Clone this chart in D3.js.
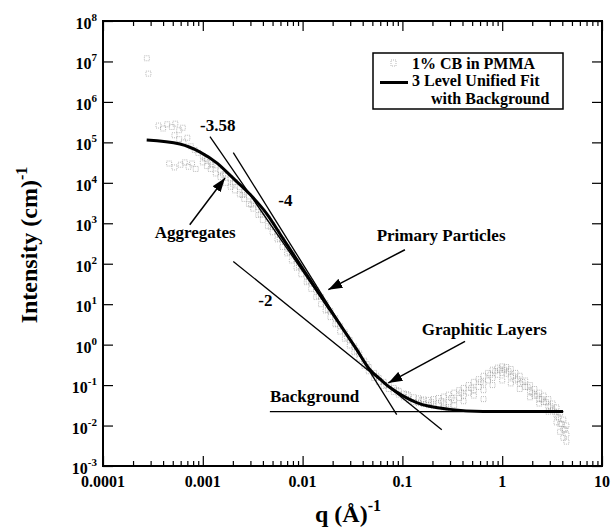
<!DOCTYPE html>
<html>
<head>
<meta charset="utf-8">
<script src="https://cdn.jsdelivr.net/npm/d3@7"></script>
<style>
  body { margin: 0; background: #fff; }
  text { font-family: "Liberation Serif", "Times New Roman", serif; font-weight: bold; fill: #000; }
</style>
</head>
<body>
<svg id="paper" width="613" height="529"></svg>
<script>
// measured scattering data, 1% CB in PMMA: [q (1/A), I (1/cm)]
const cbData = [
  [2.75e-4, 1.2e7], [2.85e-4, 5.0e6],
  [3.6e-4, 2.6e5], [4.0e-4, 2.2e5], [4.4e-4, 2.8e5], [4.9e-4, 2.4e5], [5.3e-4, 2.9e5], [5.8e-4, 2.0e5], [6.3e-4, 2.3e5],
  [5.2e-4, 1.5e5], [5.8e-4, 1.2e5], [6.4e-4, 1.0e5], [7.0e-4, 1.3e5], [7.6e-4, 8.0e4], [8.3e-4, 6.5e4], [9.0e-4, 5.5e4],
  [4.6e-4, 3.0e4], [5.2e-4, 2.4e4], [6.0e-4, 2.8e4], [6.6e-4, 3.2e4], [7.2e-4, 2.5e4], [7.8e-4, 3.0e4], [8.5e-4, 2.2e4],
  [1.0e-3, 4.6e4], [1.0e-3, 3.2e4], [1.1e-3, 3.8e4], [1.1e-3, 2.6e4], [1.2e-3, 3.3e4], [1.2e-3, 2.2e4],
  [1.35e-3, 2.7e4], [1.35e-3, 1.7e4], [1.5e-3, 2.0e4], [1.5e-3, 1.4e4], [1.7e-3, 1.6e4], [1.7e-3, 1.0e4],
  [1.9e-3, 1.3e4], [1.9e-3, 8.0e3], [2.1e-3, 1.05e4], [2.1e-3, 6.5e3], [2.35e-3, 7.8e3], [2.35e-3, 5.2e3],
  [2.6e-3, 6.0e3], [2.6e-3, 4.0e3], [2.9e-3, 4.6e3], [2.9e-3, 3.0e3], [3.2e-3, 3.5e3], [3.2e-3, 2.3e3],
  [3.6e-3, 2.5e3], [3.6e-3, 1.6e3], [4.0e-3, 1.9e3], [4.0e-3, 1.2e3], [4.5e-3, 1.3e3], [4.5e-3, 850],
  [5.0e-3, 900], [5.0e-3, 600], [5.6e-3, 600], [5.6e-3, 400], [6.3e-3, 380], [6.3e-3, 260],
  [7.0e-3, 260], [7.0e-3, 180], [7.8e-3, 180], [7.8e-3, 120], [8.7e-3, 120], [8.7e-3, 80],
  [9.7e-3, 80], [9.7e-3, 55], [0.011, 50], [0.011, 35], [0.0122, 34], [0.0122, 24],
  [0.0137, 22], [0.0137, 15], [0.0153, 15], [0.0153, 10], [0.017, 10.5], [0.017, 7.0],
  [0.019, 6.8], [0.019, 4.8], [0.0213, 4.5], [0.0213, 3.2], [0.0238, 2.9], [0.0238, 2.1],
  [0.0265, 2.0], [0.0265, 1.4], [0.0297, 1.3], [0.0297, 0.95], [0.033, 0.9], [0.033, 0.65],
  [0.037, 0.6], [0.037, 0.45], [0.0415, 0.4], [0.0415, 0.3], [0.046, 0.28], [0.046, 0.22],
  [0.052, 0.2], [0.052, 0.15], [0.058, 0.15], [0.058, 0.12], [0.065, 0.12], [0.065, 0.095],
  [0.073, 0.1], [0.073, 0.08], [0.082, 0.085], [0.082, 0.068], [0.092, 0.072], [0.092, 0.058],
  [0.103, 0.062], [0.103, 0.05], [0.115, 0.056], [0.115, 0.044], [0.13, 0.05], [0.13, 0.038],
  [0.145, 0.047], [0.145, 0.036], [0.163, 0.044], [0.163, 0.034], [0.183, 0.043], [0.183, 0.032],
  [0.205, 0.045], [0.205, 0.031], [0.23, 0.048], [0.23, 0.033], [0.26, 0.052], [0.26, 0.035], [0.26, 0.028],
  [0.29, 0.058], [0.29, 0.038], [0.29, 0.026], [0.33, 0.065], [0.33, 0.042], [0.33, 0.032],
  [0.37, 0.075], [0.37, 0.048], [0.41, 0.085], [0.41, 0.055], [0.41, 0.04], [0.46, 0.1], [0.46, 0.065],
  [0.52, 0.12], [0.52, 0.075], [0.52, 0.055], [0.58, 0.14], [0.58, 0.09], [0.65, 0.17], [0.65, 0.11], [0.65, 0.075], [0.65, 0.045],
  [0.72, 0.2], [0.72, 0.13], [0.8, 0.24], [0.8, 0.15], [0.8, 0.1], [0.9, 0.27], [0.9, 0.18],
  [1.0, 0.29], [1.0, 0.2], [1.0, 0.13], [1.1, 0.28], [1.1, 0.19], [1.22, 0.25], [1.22, 0.16], [1.22, 0.11],
  [1.36, 0.2], [1.36, 0.13], [1.5, 0.17], [1.5, 0.11], [1.5, 0.08], [1.7, 0.13], [1.7, 0.09],
  [1.9, 0.1], [1.9, 0.07], [1.9, 0.05], [2.1, 0.08], [2.1, 0.055], [2.35, 0.065], [2.35, 0.045], [2.35, 0.035],
  [2.6, 0.055], [2.6, 0.038], [2.9, 0.045], [2.9, 0.03], [2.9, 0.022], [3.2, 0.035], [3.2, 0.024],
  [3.5, 0.028], [3.5, 0.018], [3.5, 0.012], [3.8, 0.02], [3.8, 0.011], [3.8, 0.007],
  [4.1, 0.014], [4.1, 0.008], [4.1, 0.005], [4.4, 0.01], [4.4, 0.006], [4.4, 0.004],
  // extra points filling the band
  [1.05e-3, 4.0e4], [1.25e-3, 2.8e4], [1.6e-3, 1.6e4], [2.0e-3, 9.5e3], [2.5e-3, 5.0e3], [3.05e-3, 2.9e3],
  [3.8e-3, 1.7e3], [4.8e-3, 820], [5.9e-3, 420], [7.4e-3, 190], [9.2e-3, 85], [0.0115, 38], [0.0145, 16],
  [0.018, 7.2], [0.0225, 3.2], [0.028, 1.5], [0.035, 0.7], [0.044, 0.33], [0.055, 0.17], [0.069, 0.1],
  [0.087, 0.075], [0.11, 0.06], [0.155, 0.042], [0.195, 0.038], [0.245, 0.04], [0.31, 0.048], [0.39, 0.065],
  [0.49, 0.085], [0.61, 0.12], [0.76, 0.18], [0.85, 0.22], [0.95, 0.24], [1.05, 0.24], [1.16, 0.22],
  [1.29, 0.17], [1.43, 0.14], [1.6, 0.12], [1.8, 0.09], [2.0, 0.065], [2.25, 0.055], [2.5, 0.045],
  [2.75, 0.038], [3.05, 0.03], [3.35, 0.022], [3.65, 0.016], [3.95, 0.011], [4.25, 0.008]
];

// 3 level unified fit with background
const fitQ = [2.74e-4, 5.9e-4, 9.4e-4, 1.38e-3, 2.0e-3, 2.97e-3, 4.36e-3, 6.37e-3, 0.0138, 0.0175, 0.0348, 0.0473, 0.06, 0.0752, 0.1, 0.139, 0.3, 0.643, 4.07];
const fitI = [1.15e5, 9.1e4, 5.75e4, 3.1e4, 1.32e4, 5.2e3, 1.74e3, 417, 22.9, 9.6, 0.76, 0.24, 0.14, 0.087, 0.055, 0.037, 0.0251, 0.0224, 0.0221];

// power law guide lines: [q start, I start, q end, I end]
const slopeLines = [
  {label: "-3.58", seg: [1.18e-3, 1.39e5, 0.0188, 6.86], at: [9.4e-4, 1.9e5]},
  {label: "-4", seg: [2.02e-3, 5.6e4, 0.0877, 0.0187], at: [5.7e-3, 2.7e3]},
  {label: "-2", seg: [2.02e-3, 114, 0.248, 0.0079], at: [3.6e-3, 9.2]}
];
const background = {q0: 0.0047, q1: 4.1, I: 0.022};

// annotations: text anchor point and arrow (from -> tip)
const notes = [
  {text: "Aggregates", at: [8.4e-4, 440], anchor: "middle", from: [7.4e-4, 920], tip: [1.67e-3, 1.31e4]},
  {text: "Primary Particles", at: [0.0552, 356], anchor: "start", from: [0.106, 222], tip: [0.0181, 22.8]},
  {text: "Graphitic Layers", at: [0.156, 1.77], anchor: "start", from: [0.424, 1.2], tip: [0.0723, 0.113]},
  {text: "Background", at: [0.0047, 0.039], anchor: "start"}
];

const xDecades = [1e-4, 1e-3, 1e-2, 1e-1, 1, 10];
const xTickLabels = ["0.0001", "0.001", "0.01", "0.1", "1", "10"];
const yExponents = [-3, -2, -1, 0, 1, 2, 3, 4, 5, 6, 7, 8];
const legendLabels = ["1% CB in PMMA", "3 Level Unified Fit", "with Background"];

const plotLeft = 103, plotRight = 602, plotTop = 21, plotBottom = 466;

const x = d3.scaleLog().domain([1e-4, 10]).range([plotLeft, plotRight]);
const y = d3.scaleLog().domain([1e-3, 1e8]).range([plotBottom, plotTop]);

const svg = d3.select("#paper");

const defs = svg.append("defs");
defs.append("marker")
    .attr("id", "head")
    .attr("viewBox", "0 0 14 10")
    .attr("refX", 14).attr("refY", 5)
    .attr("markerWidth", 14).attr("markerHeight", 10)
    .attr("markerUnits", "userSpaceOnUse")
    .attr("orient", "auto")
  .append("path")
    .attr("d", "M0,0 L14,5 L0,10 z")
    .attr("fill", "#000");

// minor ticks on x
const xMinor = [];
xDecades.slice(0, -1).forEach(d => {
    for (let k = 2; k < 10; k++) xMinor.push(d * k);
});

function styleAxis(g) {
    g.select(".domain").remove();
    g.selectAll(".tick line").attr("stroke", "#000").attr("stroke-width", 1.2);
}

svg.append("g").attr("transform", "translate(0," + plotBottom + ")")
    .call(d3.axisBottom(x).tickValues(xDecades).tickSize(-10).tickFormat(""))
    .call(styleAxis);
svg.append("g").attr("transform", "translate(0," + plotBottom + ")")
    .call(d3.axisBottom(x).tickValues(xMinor).tickSize(-5).tickFormat(""))
    .call(styleAxis);
svg.append("g").attr("transform", "translate(0," + plotTop + ")")
    .call(d3.axisTop(x).tickValues(xDecades).tickSize(-10).tickFormat(""))
    .call(styleAxis);
svg.append("g").attr("transform", "translate(0," + plotTop + ")")
    .call(d3.axisTop(x).tickValues(xMinor).tickSize(-5).tickFormat(""))
    .call(styleAxis);

const yTicks = yExponents.map(e => Math.pow(10, e));
svg.append("g").attr("transform", "translate(" + plotLeft + ",0)")
    .call(d3.axisLeft(y).tickValues(yTicks).tickSize(-10).tickFormat(""))
    .call(styleAxis);
svg.append("g").attr("transform", "translate(" + plotRight + ",0)")
    .call(d3.axisRight(y).tickValues(yTicks).tickSize(-10).tickFormat(""))
    .call(styleAxis);

// frame
svg.append("rect")
    .attr("x", plotLeft).attr("y", plotTop)
    .attr("width", plotRight - plotLeft).attr("height", plotBottom - plotTop)
    .attr("fill", "none").attr("stroke", "#000").attr("stroke-width", 2);

// tick labels
svg.selectAll(".xlab").data(xDecades).enter().append("text")
    .attr("x", d => x(d)).attr("y", plotBottom + 21)
    .attr("text-anchor", "middle")
    .style("font-size", "16px")
    .text((d, i) => xTickLabels[i]);

const ylab = svg.selectAll(".ylab").data(yExponents).enter().append("text")
    .attr("x", plotLeft - 6).attr("y", d => y(Math.pow(10, d)) + 8)
    .attr("text-anchor", "end")
    .style("font-size", "16px");
ylab.append("tspan").text("10");
ylab.append("tspan").attr("dy", -8).style("font-size", "11px").text(d => d);

// axis titles
const ytitle = svg.append("text")
    .attr("transform", "translate(37,245) rotate(-90)")
    .attr("text-anchor", "middle")
    .style("font-size", "24px");
ytitle.append("tspan").text("Intensity (cm)");
ytitle.append("tspan").attr("dy", -10).style("font-size", "16px").text("-1");

const xtitle = svg.append("text")
    .attr("x", 348).attr("y", 522)
    .attr("text-anchor", "middle")
    .style("font-size", "24px");
xtitle.append("tspan").text("q (Å)");
xtitle.append("tspan").attr("dy", -11).style("font-size", "16px").text("-1");

// data
svg.append("g").selectAll("rect").data(cbData).enter().append("rect")
    .attr("x", d => x(d[0]) - 2.5).attr("y", d => y(d[1]) - 2.5)
    .attr("width", 5).attr("height", 5)
    .attr("fill", "none")
    .attr("stroke", "#8c8c8c")
    .attr("stroke-width", 0.6)
    .attr("stroke-dasharray", "1,1");

// guide lines
svg.append("g").selectAll("line").data(slopeLines).enter().append("line")
    .attr("x1", d => x(d.seg[0])).attr("y1", d => y(d.seg[1]))
    .attr("x2", d => x(d.seg[2])).attr("y2", d => y(d.seg[3]))
    .attr("stroke", "#000").attr("stroke-width", 1.3);
svg.selectAll(".slab").data(slopeLines).enter().append("text")
    .attr("x", d => x(d.at[0])).attr("y", d => y(d.at[1]))
    .style("font-size", "17px")
    .text(d => d.label);

svg.append("line")
    .attr("x1", x(background.q0)).attr("x2", x(background.q1))
    .attr("y1", y(background.I)).attr("y2", y(background.I))
    .attr("stroke", "#000").attr("stroke-width", 1.3);

// fit
const fitLine = d3.line()
    .x((d, i) => x(fitQ[i]))
    .y(d => y(d))
    .curve(d3.curveMonotoneX);
svg.append("path")
    .datum(fitI)
    .attr("d", fitLine)
    .attr("fill", "none")
    .attr("stroke", "#000")
    .attr("stroke-width", 3);

// annotations
notes.forEach(n => {
    svg.append("text")
        .attr("x", x(n.at[0])).attr("y", y(n.at[1]))
        .attr("text-anchor", n.anchor)
        .style("font-size", "17px")
        .text(n.text);
    if (n.from) {
        svg.append("line")
            .attr("x1", x(n.from[0])).attr("y1", y(n.from[1]))
            .attr("x2", x(n.tip[0])).attr("y2", y(n.tip[1]))
            .attr("stroke", "#000").attr("stroke-width", 1.5)
            .attr("marker-end", "url(#head)");
    }
});

// legend
const lg = svg.append("g");
lg.append("rect")
    .attr("x", 373).attr("y", 53).attr("width", 190).attr("height", 56)
    .attr("fill", "#fff").attr("stroke", "#000").attr("stroke-width", 1.5);
lg.append("rect")
    .attr("x", 391).attr("y", 60).attr("width", 5).attr("height", 6)
    .attr("fill", "none").attr("stroke", "#8c8c8c")
    .attr("stroke-width", 0.6).attr("stroke-dasharray", "1,1");
lg.append("line")
    .attr("x1", 380).attr("x2", 408).attr("y1", 82.5).attr("y2", 82.5)
    .attr("stroke", "#000").attr("stroke-width", 3);
lg.selectAll(".lt").data(legendLabels).enter().append("text")
    .attr("x", (d, i) => i < 2 ? 412 : 431)
    .attr("y", (d, i) => 68.5 + i * 17.8)
    .style("font-size", "16px")
    .text(d => d);
</script>
</body>
</html>
